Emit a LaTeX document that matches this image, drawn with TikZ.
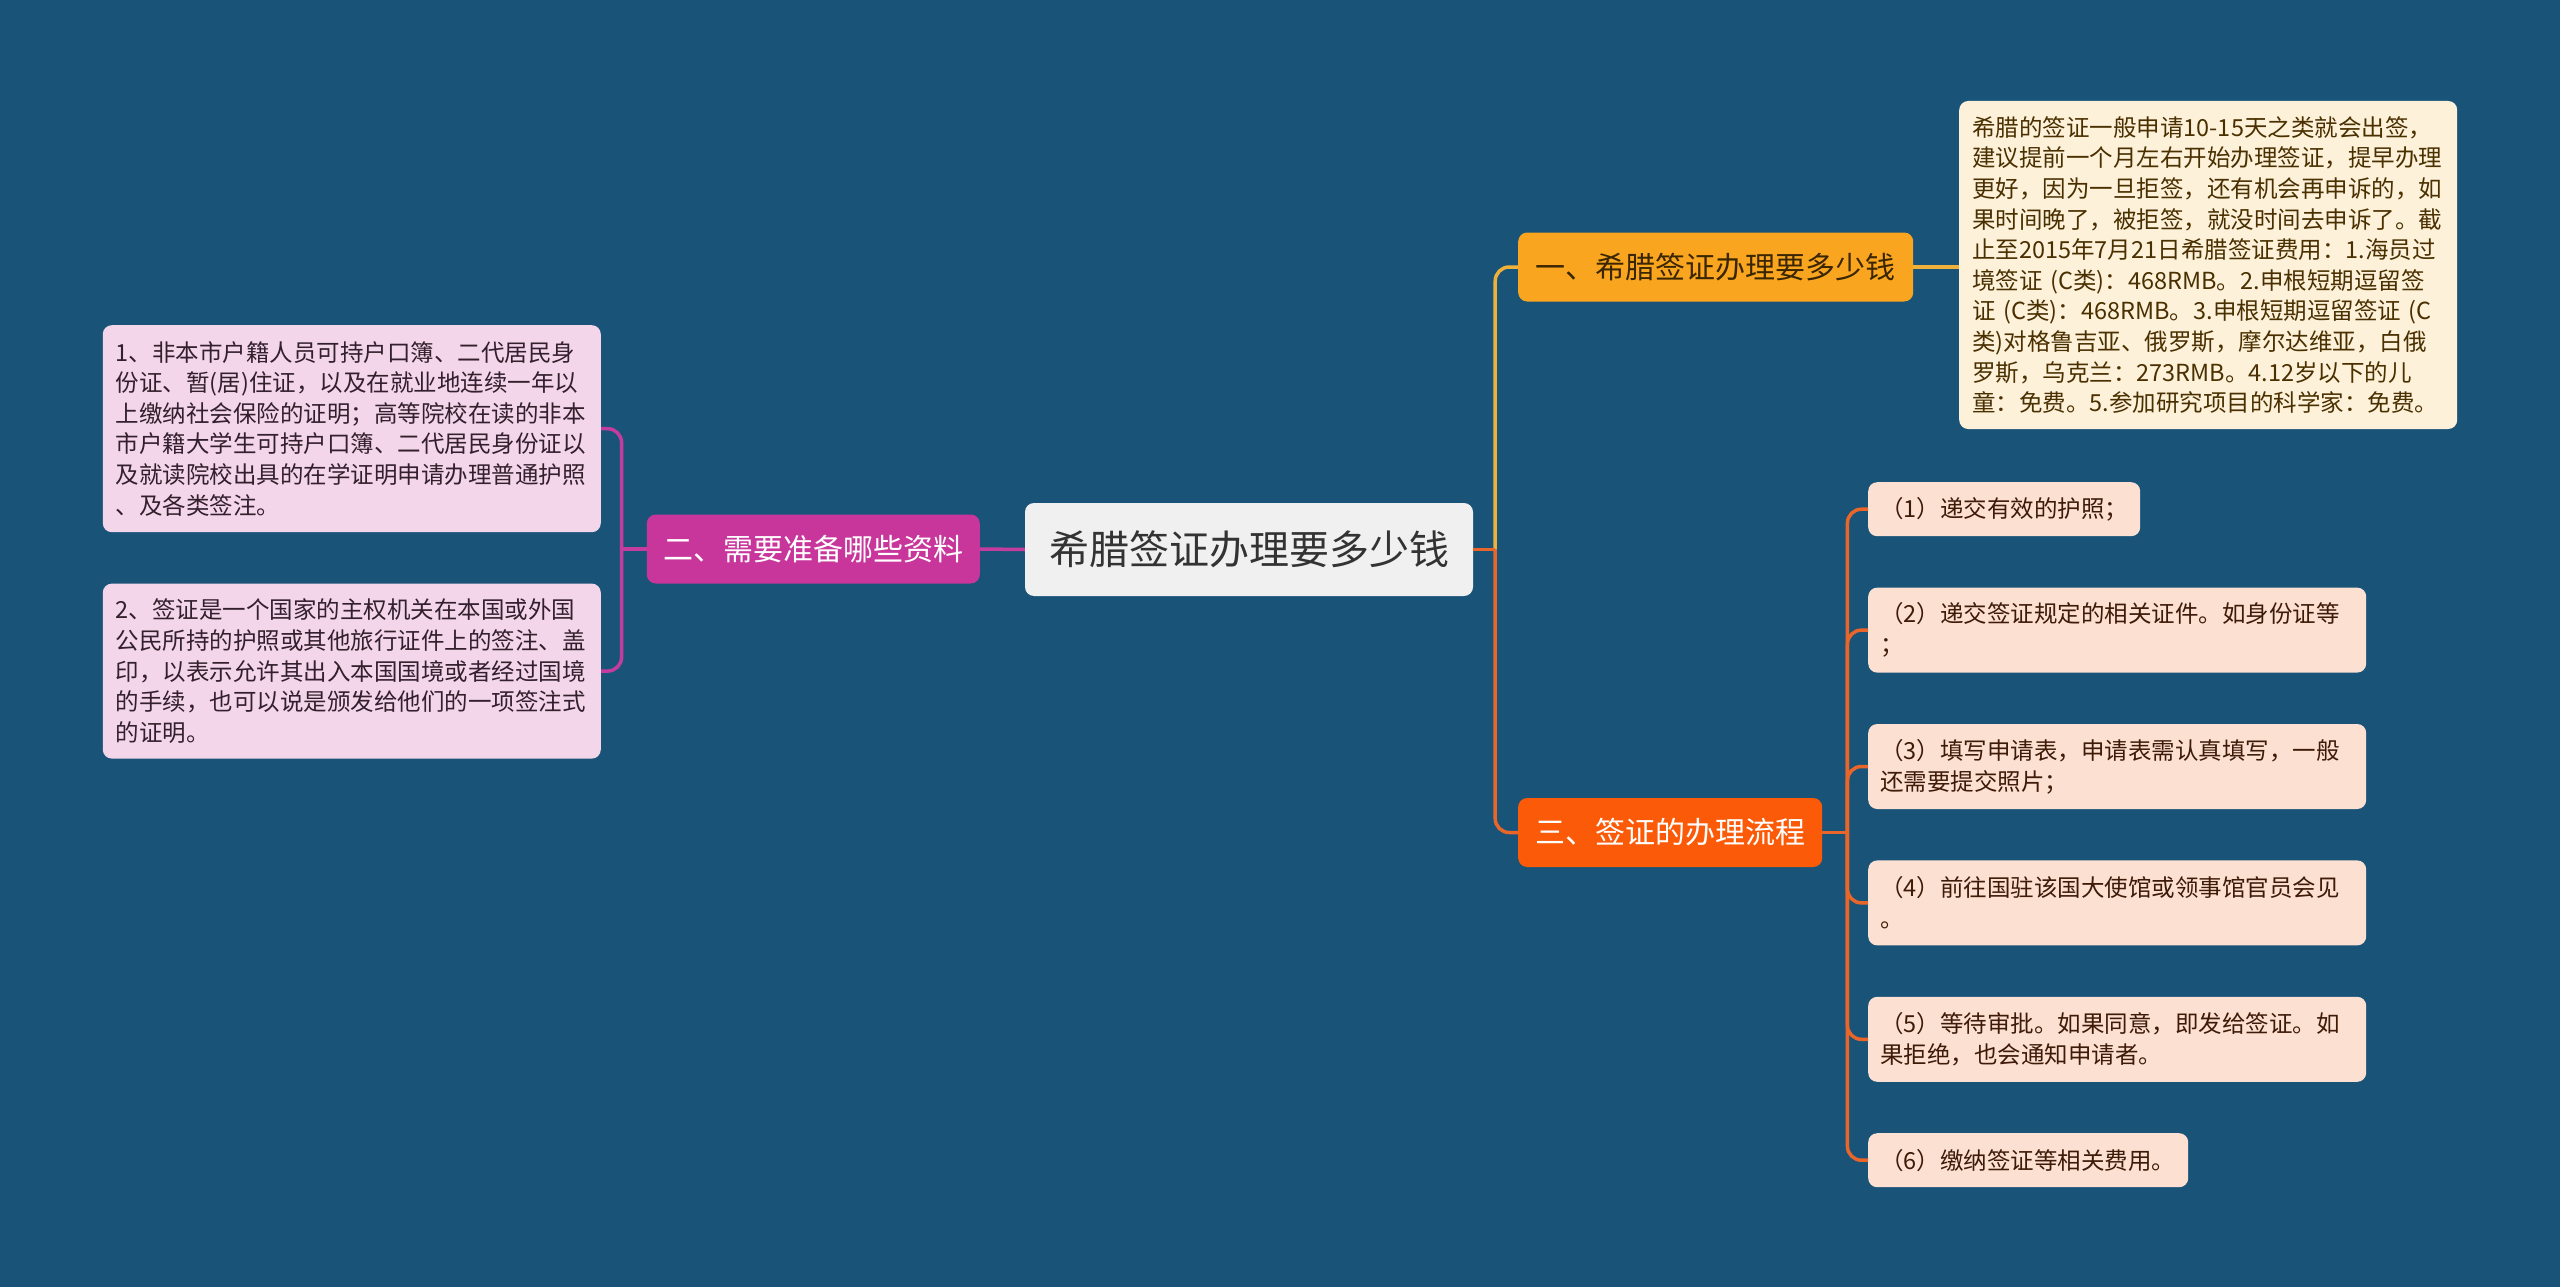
\documentclass[tikz,border=0pt]{standalone}
\usepackage{fontspec}
\newfontfamily\cjk{Noto Sans CJK SC}
\usetikzlibrary{positioning}

\definecolor{bgblue}{HTML}{1A5378}
\definecolor{rootgray}{HTML}{F0F0F0}
\definecolor{rootink}{HTML}{333333}
\definecolor{goldfill}{HTML}{F9A520}
\definecolor{goldink}{HTML}{3A2600}
\definecolor{flamefill}{HTML}{FB5B08}
\definecolor{plumfill}{HTML}{C8369C}
\definecolor{creamfill}{HTML}{FDF1DA}
\definecolor{creamink}{HTML}{4A3000}
\definecolor{peachfill}{HTML}{FCE0D2}
\definecolor{peachink}{HTML}{3E1A08}
\definecolor{pinkfill}{HTML}{F4D6EA}
\definecolor{pinkink}{HTML}{33202C}
\definecolor{linkgold}{HTML}{EFB13A}
\definecolor{linkflame}{HTML}{E8662A}
\definecolor{linkplum}{HTML}{C43D9E}

\begin{document}
\begin{tikzpicture}[
    x=1pt, y=-1pt,
    box/.style={rounded corners=9pt, inner sep=0pt},
    rootbox/.style={box, fill=rootgray, text=rootink, minimum width=448pt,
      minimum height=93pt, font=\cjk\fontsize{40}{48}\selectfont},
    topic/.style={box, minimum height=69pt, font=\cjk\fontsize{30}{36}\selectfont},
    note/.style={box, align=left, inner xsep=13pt, text width=472pt,
      font=\cjk\fontsize{23.5}{30.6}\selectfont},
    stepbox/.style={box, fill=peachfill, text=peachink, align=left, inner xsep=12pt,
      text width=#1, minimum height=85pt, font=\cjk\fontsize{23.5}{31}\selectfont},
    link/.style={line width=3.5pt},
    elbow/.style={link, rounded corners=14pt}
  ]
  \fill[bgblue] (0,0) rectangle (2560,1287);

  % Root
  \node[rootbox] (root) at (1249,549.5) {希腊签证办理要多少钱};

  % Topics
  \node[topic, fill=goldfill, text=goldink, minimum width=395pt, anchor=west]
    (cost) at (1518,267) {一、希腊签证办理要多少钱};
  \node[topic, fill=flamefill, text=white, minimum width=304pt, anchor=west]
    (flow) at (1518,832.5) {三、签证的办理流程};
  \node[topic, fill=plumfill, text=white, minimum width=333pt, anchor=east]
    (docs) at (980,549) {二、需要准备哪些资料};

  % Notes
  \node[note, fill=creamfill, text=creamink, minimum height=328pt, anchor=west]
    (costnote) at (1959,265) {希腊的签证一般申请10-15天之类就会出签，\\
    建议提前一个月左右开始办理签证，提早办理\\
    更好，因为一旦拒签，还有机会再申诉的，如\\
    果时间晚了，被拒签，就没时间去申诉了。截\\
    止至2015年7月21日希腊签证费用：1.海员过\\
    境签证 (C类)：468RMB。2.申根短期逗留签\\
    证 (C类)：468RMB。3.申根短期逗留签证 (C\\
    类)对格鲁吉亚、俄罗斯，摩尔达维亚，白俄\\
    罗斯，乌克兰：273RMB。4.12岁以下的儿\\
    童：免费。5.参加研究项目的科学家：免费。};

  \node[note, fill=pinkfill, text=pinkink, minimum height=207pt, anchor=north east]
    (docs1) at (601,325) {1、非本市户籍人员可持户口簿、二代居民身\\
    份证、暂(居)住证，以及在就业地连续一年以\\
    上缴纳社会保险的证明；高等院校在读的非本\\
    市户籍大学生可持户口簿、二代居民身份证以\\
    及就读院校出具的在学证明申请办理普通护照\\
    、及各类签注。};
  \node[note, fill=pinkfill, text=pinkink, minimum height=175pt,
    below=51pt of docs1.south east, anchor=north east]
    (docs2) {2、签证是一个国家的主权机关在本国或外国\\
    公民所持的护照或其他旅行证件上的签注、盖\\
    印，以表示允许其出入本国国境或者经过国境\\
    的手续，也可以说是颁发给他们的一项签注式\\
    的证明。};

  % Steps
  \node[stepbox=248pt, minimum height=54pt, anchor=north west]
    (step1) at (1868,482) {（1）递交有效的护照；};
  \node[stepbox=474pt, below=51pt of step1.south west, anchor=north west]
    (step2) {（2）递交签证规定的相关证件。如身份证等\\；};
  \node[stepbox=474pt, below=51pt of step2.south west, anchor=north west]
    (step3) {（3）填写申请表，申请表需认真填写，一般\\还需要提交照片；};
  \node[stepbox=474pt, below=51pt of step3.south west, anchor=north west]
    (step4) {（4）前往国驻该国大使馆或领事馆官员会见\\。};
  \node[stepbox=474pt, below=51pt of step4.south west, anchor=north west]
    (step5) {（5）等待审批。如果同意，即发给签证。如\\果拒绝，也会通知申请者。};
  \node[stepbox=296pt, minimum height=54pt, below=51pt of step5.south west, anchor=north west]
    (step6) {（6）缴纳签证等相关费用。};

  % Junctions
  \coordinate (rootjoin) at ([xshift=22pt]root.east);
  \coordinate (flowjoin) at ([xshift=25pt]flow.east);
  \coordinate (docsjoin) at ([xshift=-25pt]docs.west);

  % Links
  \draw[elbow, draw=linkgold] (rootjoin) |- (cost.west);
  \draw[link, draw=linkgold] (cost.east) -- (cost.east -| costnote.west);
  \draw[link, draw=linkflame] (root.east) -- (rootjoin);
  \draw[elbow, draw=linkflame] (rootjoin) |- (flow.west);
  \draw[link, draw=linkflame] (flow.east) -- (flowjoin);
  \foreach \s in {step1,step2,step3,step4,step5,step6}
    \draw[elbow, draw=linkflame] (flowjoin) |- (\s.west);
  \draw[link, draw=linkplum] (root.west) -- (docs.east);
  \draw[link, draw=linkplum] (docs.west) -- (docsjoin);
  \draw[elbow, draw=linkplum] (docsjoin) |- (docs1.east);
  \draw[elbow, draw=linkplum] (docsjoin) |- (docs2.east);
\end{tikzpicture}
\end{document}
